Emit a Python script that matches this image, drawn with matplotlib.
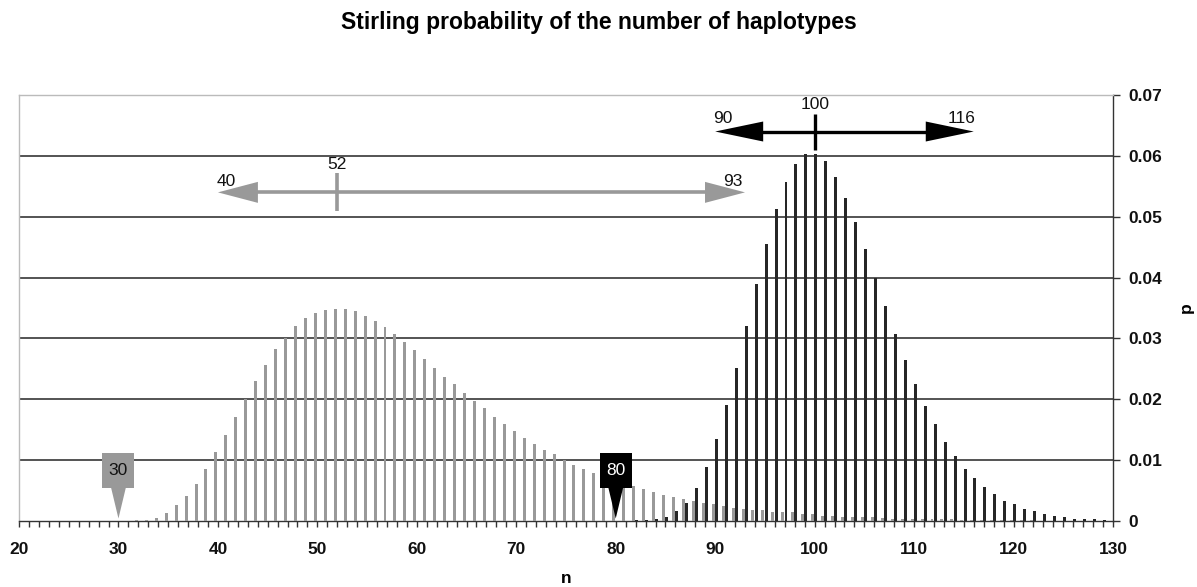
import matplotlib
matplotlib.use("Agg")
import matplotlib.pyplot as plt
from matplotlib.patches import Polygon, Rectangle
import numpy as np

# ---------------- data ----------------
n_values = list(range(20, 131))

# gray distribution (mean ~52)
p_gray = [0]*11 + [
    0.00005, 0.0001, 0.0002, 0.0005, 0.0013, 0.0026, 0.0041, 0.0060, 0.0085,        # 31-39
    0.0113, 0.0142, 0.0171, 0.0201, 0.0230, 0.0256, 0.0282, 0.0301, 0.0320, 0.0333,  # 40-49
    0.0341, 0.0347, 0.0349, 0.0349, 0.0345, 0.0337, 0.0328, 0.0318, 0.0307, 0.0294,  # 50-59
    0.0281, 0.0267, 0.0252, 0.0237, 0.0225, 0.0210, 0.0198, 0.0185, 0.0171, 0.0159,  # 60-69
    0.0148, 0.0137, 0.0127, 0.0116, 0.0110, 0.0100, 0.0092, 0.0086, 0.0079, 0.0072,  # 70-79
    0.0067, 0.0062, 0.0058, 0.0052, 0.0048, 0.0043, 0.0039, 0.0036, 0.0033, 0.0030,  # 80-89
    0.0028, 0.0024, 0.0022, 0.0020, 0.0018, 0.0018, 0.0015, 0.0015, 0.0014, 0.0012,  # 90-99
    0.0012, 0.0009, 0.0009, 0.0007, 0.0007, 0.0006, 0.0006, 0.0005, 0.0004, 0.0004,  # 100-109
    0.0004, 0.0004, 0.0003, 0.0003, 0.0003, 0.0002, 0.0002, 0.0002, 0.0002, 0.0001,  # 110-119
    0.0001, 0.0001, 0.0001, 0, 0, 0, 0, 0, 0, 0, 0                                   # 120-130
]

# black distribution (mean ~100)
p_black = [0]*62 + [
    0.0001, 0.0002, 0.0004, 0.0007, 0.0016, 0.0029, 0.0054, 0.0089,                  # 82-89
    0.0134, 0.0190, 0.0252, 0.0321, 0.0390, 0.0455, 0.0512, 0.0557, 0.0587, 0.0603,  # 90-99
    0.0603, 0.0592, 0.0566, 0.0531, 0.0491, 0.0447, 0.0399, 0.0354, 0.0307, 0.0264,  # 100-109
    0.0225, 0.0189, 0.0159, 0.0130, 0.0106, 0.0086, 0.0070, 0.0056, 0.0044, 0.0033,  # 110-119
    0.0028, 0.0020, 0.0016, 0.0012, 0.0009, 0.0006, 0.0004, 0.0004, 0.0003, 0.0002,  # 120-129
    0                                                                                 # 130
]

x_ticks = list(range(20, 131, 10))
y_ticks = [0, 0.01, 0.02, 0.03, 0.04, 0.05, 0.06, 0.07]
y_tick_labels = ["0", "0.01", "0.02", "0.03", "0.04", "0.05", "0.06", "0.07"]

# interval annotations: (low, centre, high, y level)
gray_interval = (40, 52, 93, 0.054)
black_interval = (90, 100, 116, 0.064)
# markers: (position, label)
gray_marker = (30, "30")
black_marker = (80, "80")

title = "Stirling probability of the number of haplotypes"

# ---------------- style ----------------
GRAY = "#999999"
BLACK = "#262626"
FONT = "Liberation Sans"

fig = plt.figure(figsize=(11.97, 5.87), dpi=100)
ax = fig.add_axes([19/1197, 66/587, (1113-19)/1197, (521-95)/587])

n_arr = np.array(n_values, dtype=float)
bw = 0.3
ax.bar(n_arr - 0.2, p_gray, width=bw, color=GRAY, zorder=3, linewidth=0)
ax.bar(n_arr + 0.12, p_black, width=bw, color=BLACK, zorder=3, linewidth=0)

ax.set_xlim(20, 130)
ax.set_ylim(0, 0.07)

# gridlines (except top)
for yv in y_ticks[1:-1]:
    ax.axhline(yv, color="#363636", lw=1.2, zorder=1)

# spines
ax.spines["left"].set_color("#bbbbbb")
ax.spines["top"].set_color("#bbbbbb")
ax.spines["right"].set_color("#333333")
ax.spines["bottom"].set_color("#333333")
for s in ax.spines.values():
    s.set_linewidth(1.0)

# ticks
ax.yaxis.tick_right()
ax.yaxis.set_label_position("right")
ax.set_yticks(y_ticks)
ax.set_yticklabels(y_tick_labels)
ax.set_xticks(x_ticks)
ax.set_xticks(n_values, minor=True)
ax.tick_params(axis="x", which="both", direction="out", length=4, width=1,
               color="#333333", pad=11)
ax.tick_params(axis="y", which="major", direction="out", length=5, width=1,
               color="#333333", pad=6)
for lab in ax.get_xticklabels() + ax.get_yticklabels():
    lab.set_fontfamily(FONT)
    lab.set_fontsize(12.5)
    lab.set_fontweight("bold")
    lab.set_color("#111111")

ax.set_xlabel("n", fontfamily=FONT, fontsize=12.5, fontweight="bold", labelpad=10)
ax.set_ylabel("p", fontfamily=FONT, fontsize=12.5, fontweight="bold", labelpad=12,
              rotation=90)

fig.text(0.5, 1 - 23/587, title, ha="center", va="center",
         fontfamily=FONT, fontsize=16.5, fontweight="bold")

# ---------------- interval arrows ----------------
px_x = (1113 - 19) / 110.0          # pixels per x unit
px_y = (521 - 95) / 0.07            # pixels per y unit


def draw_interval(lo, mid, hi, yv, color, head_len_px, head_half_px, tick_half_px,
                  lw, labels_dy_px):
    hl = head_len_px / px_x
    hh = head_half_px / px_y
    ax.plot([lo + hl * 0.9, hi - hl * 0.9], [yv, yv], color=color, lw=lw,
            solid_capstyle="butt", zorder=5, clip_on=False)
    ax.add_patch(Polygon([[lo, yv], [lo + hl, yv + hh], [lo + hl, yv - hh]],
                         closed=True, facecolor=color, edgecolor="none", zorder=5))
    ax.add_patch(Polygon([[hi, yv], [hi - hl, yv + hh], [hi - hl, yv - hh]],
                         closed=True, facecolor=color, edgecolor="none", zorder=5))
    th = tick_half_px / px_y
    ax.plot([mid, mid], [yv - th, yv + th], color=color, lw=lw,
            solid_capstyle="butt", zorder=5)
    kw = dict(fontfamily=FONT, fontsize=12.5, color="#111111", zorder=6,
              ha="center", va="center")
    ax.text(mid, yv + (tick_half_px + 9) / px_y, str(mid), **kw)
    ax.text(lo + 0.8, yv + labels_dy_px / px_y, str(lo), **kw)
    ax.text(hi - 1.2, yv + labels_dy_px / px_y, str(hi), **kw)


draw_interval(*gray_interval, color=GRAY, head_len_px=40, head_half_px=10.5,
              tick_half_px=19, lw=2.6, labels_dy_px=11)
draw_interval(*black_interval, color="#000000", head_len_px=48, head_half_px=10,
              tick_half_px=18, lw=2.4, labels_dy_px=13)

# ---------------- markers ----------------


def draw_marker(pos, label, face, txtcolor):
    box_w = 32 / px_x
    box_bot = 33.5 / px_y
    box_top = 68 / px_y
    tip = 2.5 / px_y
    half_base = 7.5 / px_x
    ax.add_patch(Rectangle((pos - box_w/2, box_bot), box_w, box_top - box_bot,
                           facecolor=face, edgecolor="none", zorder=7))
    ax.add_patch(Polygon([[pos - half_base, box_bot + 0.00005],
                          [pos + half_base, box_bot + 0.00005], [pos, tip]],
                         closed=True, facecolor=face, edgecolor="none", zorder=7))
    ax.text(pos, (box_bot + box_top) / 2, label, ha="center", va="center",
            fontfamily=FONT, fontsize=12.5, color=txtcolor, zorder=8)


draw_marker(gray_marker[0], gray_marker[1], GRAY, "#111111")
draw_marker(black_marker[0], black_marker[1], "#000000", "#ffffff")

fig.savefig("out.png", dpi=100)
